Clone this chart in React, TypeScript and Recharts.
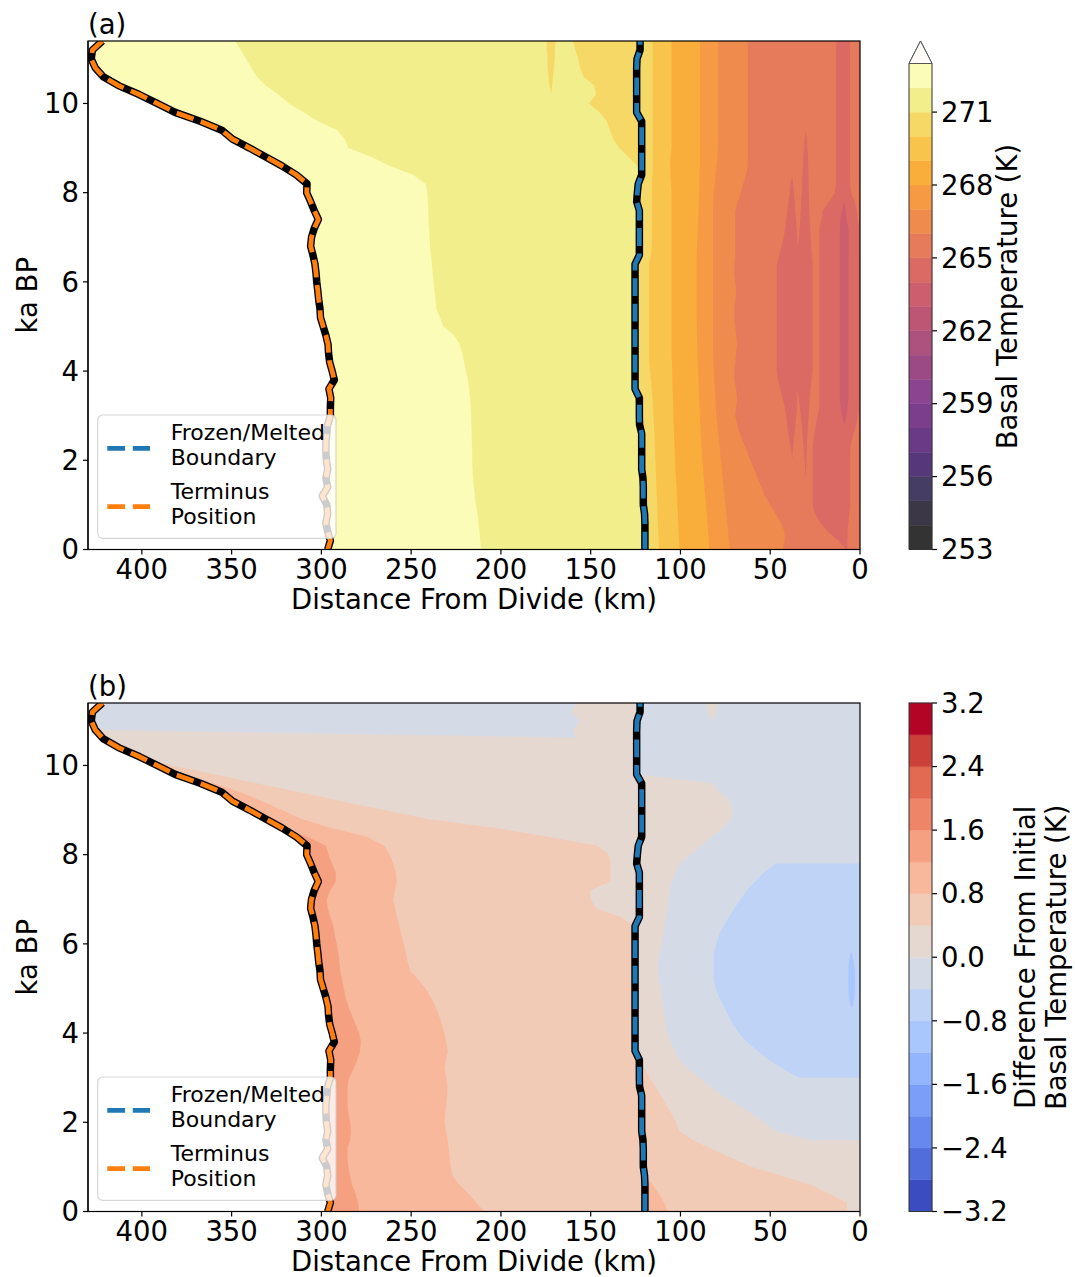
import React from 'react';
import { ComposedChart, Area, Line, XAxis, YAxis, ReferenceArea } from 'recharts';

const FONT = "'DejaVu Sans', 'Liberation Sans', sans-serif";

// ---------- shared time grid (ka BP) ----------
const timeKa = [0, 0.2, 0.4, 0.6, 0.8, 1, 1.2, 1.4, 1.6, 1.8, 2, 2.2, 2.4, 2.6, 2.8, 3, 3.2, 3.4, 3.6, 3.8,
  4, 4.2, 4.4, 4.6, 4.8, 5, 5.2, 5.4, 5.6, 5.8, 6, 6.2, 6.4, 6.6, 6.8, 7, 7.2, 7.4, 7.6, 7.8,
  8, 8.2, 8.4, 8.6, 8.8, 9, 9.2, 9.4, 9.6, 9.8, 10, 10.2, 10.4, 10.6, 10.8, 11, 11.2, 11.4];

// terminus position (km from divide)
const terminusKm = [296.5, 295, 296.5, 297.5, 296.5, 297, 299.5, 296.5, 297.5, 296.5,
  297.2, 297.5, 297.5, 297, 296.5, 295, 295, 294.8, 295.8, 292.8,
  294, 295.4, 296, 296.3, 297.5, 299, 300.5, 300.8, 301.5, 302,
  302.6, 303, 303.6, 304.7, 306, 305.5, 304, 301.7, 304, 306,
  308.2, 308, 314, 322, 331, 340, 349.5, 355.5, 367.5, 381.5,
  391.5, 401.5, 413, 421.5, 426, 428.2, 427.5, 422];

// frozen / melted boundary (km from divide)
const frozenMeltedKm = [119.8, 119.8, 119.8, 119.8, 120, 120.7, 120.7, 120.7, 120.9, 121.6,
  121.6, 121.6, 121.6, 121.6, 122.8, 122.9, 122.9, 122.9, 125.3, 125.3,
  125.3, 125.3, 125.3, 125.3, 125.3, 125.3, 125.3, 125.3, 125.3, 125.3,
  125.3, 125.3, 125.3, 122.9, 122.9, 122.9, 122.9, 122.9, 122.9, 124.4,
  124, 123.5, 121.6, 121.6, 121.6, 121.6, 121.6, 121.6, 121.6, 124.4,
  124.4, 124.4, 124.4, 124.4, 124.4, 124.2, 122.5, 122.5];

// ---------- panel (a): basal temperature contour positions (km where T crosses level) ----------
const tempLevels = [253, 254, 255, 256, 257, 258, 259, 260, 261, 262, 263, 264, 265, 266, 267, 268, 269, 270, 271, 272, 273];
const tempColors = ['#333333', '#3c3747', '#453d63', '#56387a', '#6a3a86', '#7a3e8c', '#8a4490', '#9b4a86', '#ad527e', '#bd5675',
  '#cd5e6d', '#da6a63', '#e67b5b', '#f08b4e', '#f69b43', '#f9ae3b', '#f9c44c', '#f6d867', '#f2ee8c', '#fafcb8'];
const tempTicks = [253, 256, 259, 262, 265, 268, 271];

const iso272 = [211, 211.5, 212, 212.5, 213, 214, 214.5, 215, 215.5, 215.8,
  216, 216, 216.2, 216.3, 216.5, 216.6, 216.8, 217.2, 217.8, 218.3,
  219.5, 220.5, 221.5, 223, 226, 232, 234, 236, 236.5, 237,
  237.5, 238, 238.5, 239, 239.5, 239.8, 240.1, 240.3, 240.5, 240.7,
  241, 242, 249, 262, 272, 285, 287, 291, 302, 310,
  318, 324, 331, 336, 339, 342, 345, 348];
const iso271 = [120.3, 120.3, 120.3, 120.3, 120.5, 121.2, 121.2, 121.2, 121.4, 122.1,
  122.1, 122.1, 122.1, 122.1, 123.3, 123.4, 123.4, 123.4, 125.8, 125.8,
  125.8, 125.8, 125.8, 125.8, 125.8, 125.8, 125.8, 125.8, 125.8, 125.8,
  125.8, 125.8, 125.8, 123.4, 123.4, 123.4, 123.4, 123.4, 123.4, 124.9,
  124.5, 124, 122.1, 124, 129, 134, 137.5, 139.3, 141, 145,
  151, 147, 148, 154, 156, 157, 158.5, 160];
const iso270 = [112, 112.2, 112.4, 112.6, 112.8, 113, 113.2, 113.4, 113.6, 113.8,
  114, 114.2, 114.4, 114.6, 114.8, 115, 115.3, 115.6, 116, 116.5,
  117, 117.5, 117.5, 117.5, 117.5, 117.5, 117.5, 117.5, 117.5, 117.5,
  117.5, 117.5, 117.5, 116.5, 116, 116, 116, 116, 116, 116,
  116, 115.8, 115.6, 115.5, 115.5, 115.5, 115.5, 115.5, 115.5, 115.5,
  115.5, 115.5, 115.5, 115.5, 115.5, 115.5, 115.5, 115.5];
const iso269 = [100.5, 100.8, 101, 101.3, 101.5, 101.8, 102, 102.2, 102.5, 102.8,
  103, 103.2, 103.4, 103.6, 103.8, 104, 104, 104.2, 104.4, 104.5,
  104.6, 104.8, 105, 105, 105, 105, 105, 105, 105, 105,
  105, 105, 105, 105, 105, 105, 105, 105, 105, 105,
  105, 105.3, 105.6, 105.8, 105.5, 105, 105, 105, 105, 105,
  105, 105, 105, 105, 105, 105, 105, 105];
const iso268 = [84, 84.3, 84.6, 85, 85.4, 85.8, 86.2, 86.6, 87, 87.4,
  87.8, 88.1, 88.4, 88.7, 89, 89.2, 89.4, 89.6, 89.8, 90,
  90.2, 90.4, 90.6, 90.7, 90.8, 90.9, 91, 91, 91, 91,
  91, 91, 91, 91, 90.8, 90.6, 90.4, 90.2, 90, 89.8,
  89.6, 89.5, 89.4, 89.2, 89.2, 89.2, 89.2, 89.2, 89.2, 89.2,
  89.2, 89.2, 89.2, 89.2, 89.2, 89.2, 89.2, 89.2];
const iso267 = [72.5, 73, 73.5, 74, 74.5, 75, 75.5, 76, 76.5, 77,
  77.5, 78, 78.5, 79, 79.5, 80, 80.3, 80.6, 80.9, 81.2,
  81.4, 81.6, 81.8, 81.8, 81.8, 81.8, 81.8, 81.8, 81.8, 81.8,
  81.8, 81.8, 81.8, 81.8, 81.8, 81.8, 81.8, 81.8, 81.8, 81.8,
  81.5, 81, 80.5, 80, 79.5, 79.2, 79, 79, 79, 79,
  79, 79, 79, 79, 79, 79, 79, 79];
const iso266 = [43, 42, 42, 44, 47, 50, 53, 55, 57, 59,
  61, 63, 65, 67, 68.5, 69.5, 69, 68.5, 69, 70,
  70, 69.5, 69, 68.5, 69, 69.5, 70, 70, 69.5, 69,
  69.5, 70, 70, 69.5, 69.5, 69.5, 69.5, 69.5, 69.5, 68,
  66.3, 65, 63.5, 62.5, 62.5, 62.5, 62.5, 62.5, 62.5, 62.5,
  62.5, 62.5, 62.5, 62.5, 62.5, 62.5, 62.5, 62.5];

// closed tongues (band ranges [lo, hi] km), starting at a given time
const patch270to271 = { startKa: 10.2, lo: [172, 171.5, 171, 170.5, 170, 170, 169.5], hi: [172, 173, 173.5, 174, 174, 174.5, 174.5] };
const tongueA264 = {
  startKa: 0,
  lo: [7.2, 7, 7, 6.5, 6, 5.5, 5.5, 5.5, 5.5, 5.5, 5.5, 5.5, 5, 3.5, 2, 1,
    0.5, 0.5, 0.5, 0.5, 0.5, 0.5, 0.5, 0.5, 0.5, 0.5, 0.5, 0.5, 0.5, 0.5, 0.5, 0.5, 0.5, 0.5, 0.5, 0.5, 0.5,
    1.2, 1.7, 3, 5, 5.5, 5.5, 5.5, 5.5, 5.5, 5.5, 5.5, 5.5, 5.5, 5.5, 5.5, 5.5, 5.5, 5.5, 5.5, 5.5, 5.5],
  hi: [8, 12, 18, 22, 25, 26.4, 26.4, 26.4, 26.4, 26.4, 26.4, 26.4, 26, 25.5, 24.5, 23.5,
    22.6, 22.6, 22.6, 22.6, 22.6, 22.6, 22.6, 22.6, 22.6, 22.6, 22.6, 22.6, 22.6, 22.6, 22.6, 22.6, 22.6, 22.6, 22.6, 22.6, 22.6,
    21.5, 20.7, 17, 14, 13.3, 13.3, 13.3, 13.3, 13.3, 13.3, 13.3, 13.3, 13.3, 13.3, 13.3, 13.3, 13.3, 13.3, 13.3, 13.3, 13.1],
};
const tongueB264 = {
  startKa: 1.6,
  lo: [30.2, 30, 29.9, 29.7, 29.5, 29.2, 29, 28.6, 28.3, 28, 27.5, 27,
    26.4, 26.4, 26.4, 26.4, 26.4, 26.4, 26.4, 26.4, 26.4, 26.4, 26.4, 26.4, 26.4,
    26.8, 27.2, 27.5, 27.8, 28, 28.3, 28.4, 28.5, 28.6, 28.7, 28.8, 29, 29.3, 29.6, 30.2],
  hi: [30.2, 30.5, 30.9, 31.2, 31.6, 32, 32.5, 33, 33.5, 34, 35, 36,
    36.5, 36.5, 36.5, 36.5, 36.5, 36.5, 36.5, 36.5, 36.5, 36.5, 36.5, 36.5, 36.5,
    36, 35, 34, 33.6, 33.3, 33, 32.8, 32.5, 32.2, 32, 31.8, 31.5, 31.2, 30.8, 30.2],
};
const tongueC264 = {
  startKa: 2,
  lo: [37.8, 37.5, 37, 36.5, 36, 35.5, 35.2, 35, 35, 35.5,
    36, 36, 36, 36, 36, 36, 36, 36, 36, 36, 36, 36, 36,
    35.5, 35, 35, 35.2, 35.6, 36, 36.4, 36.8, 37.2, 37.8],
  hi: [37.8, 38.3, 39, 40, 40.5, 41, 42, 43, 44.5, 45.5,
    46.3, 46.3, 46.3, 46.3, 46.3, 46.3, 46.3, 46.3, 46.3, 46.3, 46.3, 46.3, 46.3,
    45, 43.5, 42.5, 41.6, 41, 40.4, 39.8, 39.2, 38.6, 37.8],
};
const tongueD263 = {
  startKa: 2.8,
  lo: [8.7, 7.5, 7, 6.4, 6.4, 6.4, 6.4, 6.4, 6.4, 6.4, 6.4, 6.4, 6.4, 6.4, 6.4, 6.4, 6.4, 6.4, 6.4, 6.4, 6.4, 6.4, 6.4, 7.5, 8, 8.7],
  hi: [8.7, 10, 10.8, 11.2, 11.2, 11.2, 11.2, 11.2, 11.2, 11.2, 11.2, 11.2, 11.2, 11.2, 11.2, 11.2, 11.2, 11.2, 11.2, 11.2, 11.2, 11.2, 11.2, 10.8, 10, 8.7],
};

// ---------- panel (b): temperature difference contour positions ----------
const diffLevels = [-3.2, -2.8, -2.4, -2, -1.6, -1.2, -0.8, -0.4, 0, 0.4, 0.8, 1.2, 1.6, 2, 2.4, 2.8, 3.2];
const diffColors = ['#3b4cc0', '#516ddb', '#6788ee', '#7b9ff9', '#93b5fe', '#aac7fd', '#bfd3f6', '#d4dbe6',
  '#e5d8d1', '#f2cbb7', '#f7b89c', '#f5a081', '#ee8468', '#e26952', '#cc403a', '#b40426'];
const diffTicks = [-3.2, -2.4, -1.6, -0.8, 0, 0.8, 1.6, 2.4, 3.2];

// 430 = contour reaches the ice margin (clipped to terminus)
const isoD12 = [279, 279.5, 281, 283, 284, 285, 285.5, 285.5, 284, 283.5,
  284, 285, 285.5, 285.5, 285.5, 284.5, 282, 280, 278.5, 278,
  279, 281, 283, 285, 286.5, 287.5, 288.5, 289.5, 290, 290.5,
  291.5, 292.5, 293.4, 295, 296.5, 297, 295, 292, 292, 294,
  296, 297.5, 308, 430, 430, 430, 430, 430, 430, 430,
  430, 430, 430, 430, 430, 430, 430, 430];
const isoD08 = [209, 214, 218, 223, 227, 228, 228.5, 229, 229.6, 230.5,
  231.4, 231, 230.5, 230, 229.8, 230.5, 231.4, 230.5, 229.6, 230.5,
  231.5, 233, 234.5, 236.5, 239, 242, 246, 250.5, 252, 253,
  254, 255.5, 256.5, 258, 259, 260, 259, 258, 258.5, 260,
  262, 265, 274.5, 294.5, 311, 322, 333, 345, 360, 430,
  430, 430, 430, 430, 430, 430, 430, 430];
const isoD04 = [7, 7.4, 17, 27.5, 43.6, 60, 71.6, 82.3, 93, 100.5,
  102.5, 105, 108, 111, 114, 117, 120, 123.5, 125.8, 125.8,
  125.8, 125.8, 125.8, 125.8, 125.8, 125.8, 125.8, 125.8, 125.8, 125.8,
  125.8, 125.8, 126, 133, 147, 150, 150, 139, 139, 139,
  140, 146, 174, 203, 241, 265, 288.5, 312, 336, 359.5,
  383, 430, 430, 430, 430, 430, 430, 430];
const isoD00 = [null, null, null, null, null, null, null, null, 27, 46.8,
  53.6, 60.6, 68.2, 76.7, 83.6, 89.6, 95.5, 100.6, 103, 105.5,
  107.5, 108.2, 108.9, 109.7, 110.5, 111, 112, 112.5, 112.5, 111.5,
  110.5, 109.6, 108.8, 108.1, 107.5, 106.8, 106, 105, 102.6, 100.1,
  94.6, 88.5, 82.4, 76.5, 71.9, 71, 72.4, 78.3, 82, 124.4,
  124.4, 124.4, 124.4, 124.4, 430, 430, 430, 430];
const isoDm04 = [null, null, null, null, null, null, null, null, null, null,
  null, null, null, null, null, 34, 43, 51, 57, 63,
  67.5, 71, 73.5, 76, 78.5, 80.5, 81.5, 81.5, 81.5, 81.5,
  80, 78.5, 76, 73, 70, 66.5, 63, 58.5, 53.5, 47,
  null, null, null, null, null, null, null, null, null, null,
  null, null, null, null, null, null, null, null];
const tongueDm08 = { startKa: 4.6, lo: [4, 3, 2.8, 2.8, 2.8, 3.5, 4.6], hi: [5.2, 6.2, 6.5, 6.5, 6.5, 6.2, 5.2] };
// small warm patches
const patchD0TopWest = { startKa: 10.6, lo: [124.4, 125, 125, 125, 125], hi: [158, 160, 156, 161, 158] };
const patchD0TopEast = { startKa: 11, lo: [82, 80, 79.5], hi: [82, 85, 85.5] };
const patchD08Bottom = { startKa: 0, lo: [107, 109, 112, 115.5, 119.5], hi: [120, 120, 120, 120, 120.3] };

// ---------- build rows ----------
type Tongue = { startKa: number; lo: number[]; hi: number[] };
const clipT = (v: number | null, i: number) => (v == null ? null : Math.min(v, terminusKm[i]));
const rangeAt = (tg: Tongue, i: number) => {
  const k = i - timeKa.indexOf(tg.startKa);
  return k >= 0 && k < tg.lo.length ? [tg.lo[k], tg.hi[k]] : null;
};

const rowsA = timeKa.map((t, i) => ({
  t,
  fill272: terminusKm[i],
  i272: clipT(iso272[i], i),
  i271: clipT(iso271[i], i),
  p271: rangeAt(patch270to271, i),
  i270: clipT(iso270[i], i),
  i269: clipT(iso269[i], i),
  i268: clipT(iso268[i], i),
  i267: clipT(iso267[i], i),
  i266: clipT(iso266[i], i),
  tA: rangeAt(tongueA264, i),
  tB: rangeAt(tongueB264, i),
  tC: rangeAt(tongueC264, i),
  tD: rangeAt(tongueD263, i),
  termK: terminusKm[i],
  termD: terminusKm[i],
  fmbK: frozenMeltedKm[i],
  fmbD: frozenMeltedKm[i],
}));

const rowsB = timeKa.map((t, i) => ({
  t,
  fill12: terminusKm[i],
  d12: clipT(isoD12[i], i),
  d08: clipT(isoD08[i], i),
  pb08: rangeAt(patchD08Bottom, i),
  d04: clipT(isoD04[i], i),
  d00: clipT(isoD00[i], i),
  pw0: rangeAt(patchD0TopWest, i),
  pe0: rangeAt(patchD0TopEast, i),
  dm04: clipT(isoDm04[i], i),
  dm08: rangeAt(tongueDm08, i),
  termK: terminusKm[i],
  termD: terminusKm[i],
  fmbK: frozenMeltedKm[i],
  fmbD: frozenMeltedKm[i],
}));

const tc = (lvl: number) => tempColors[tempLevels.indexOf(lvl)];
const dc = (lo: number) => diffColors[Math.round((lo + 3.2) / 0.4)];

const areasA = [
  { key: 'fill272', color: tc(272) },
  { key: 'i272', color: tc(271) },
  { key: 'i271', color: tc(270) },
  { key: 'p271', color: tc(270) },
  { key: 'i270', color: tc(269) },
  { key: 'i269', color: tc(268) },
  { key: 'i268', color: tc(267) },
  { key: 'i267', color: tc(266) },
  { key: 'i266', color: tc(265) },
  { key: 'tA', color: tc(264) },
  { key: 'tB', color: tc(264) },
  { key: 'tC', color: tc(264) },
  { key: 'tD', color: tc(263) },
];
const areasB = [
  { key: 'fill12', color: dc(1.2) },
  { key: 'd12', color: dc(0.8) },
  { key: 'd08', color: dc(0.4) },
  { key: 'pb08', color: dc(0.8) },
  { key: 'd04', color: dc(0) },
  { key: 'd00', color: dc(-0.4) },
  { key: 'pw0', color: dc(0) },
  { key: 'pe0', color: dc(0) },
  { key: 'dm04', color: dc(-0.8) },
  { key: 'dm08', color: dc(-1.2) },
];

const xTicks = [0, 50, 100, 150, 200, 250, 300, 350, 400];
const yTicks = [0, 2, 4, 6, 8, 10];
const DASH = '17.8 7.7';
const tickStyle = { fill: '#000', fontSize: 27.5, fontFamily: FONT };

function Panel({ rows, areas }: { rows: any[]; areas: { key: string; color: string }[] }) {
  return (
    <ComposedChart width={880} height={640} data={rows} layout="vertical"
      margin={{ top: 41, right: 20, bottom: 0, left: 0 }}>
      {areas.map((a) => (
        <Area key={a.key} dataKey={a.key} type="linear" stroke="none" fill={a.color} fillOpacity={1}
          baseValue={0} isAnimationActive={false} activeDot={false} dot={false} />
      ))}
      <Line dataKey="fmbK" type="linear" stroke="#000" strokeWidth={7.5} strokeLinejoin="round" dot={false} activeDot={false} isAnimationActive={false} />
      <Line dataKey="fmbD" type="linear" stroke="#1f77b4" strokeWidth={4.8} strokeDasharray={DASH} strokeLinecap="butt" dot={false} activeDot={false} isAnimationActive={false} />
      <Line dataKey="termK" type="linear" stroke="#000" strokeWidth={7.5} strokeLinejoin="round" dot={false} activeDot={false} isAnimationActive={false} />
      <Line dataKey="termD" type="linear" stroke="#ff7f0e" strokeWidth={4.8} strokeDasharray={DASH} strokeLinecap="butt" dot={false} activeDot={false} isAnimationActive={false} />
      <XAxis type="number" domain={[0, 430]} reversed allowDataOverflow ticks={xTicks} interval={0} height={90.5}
        tickSize={5} tickMargin={5} tick={tickStyle} axisLine={{ stroke: '#000', strokeWidth: 1.2 }} tickLine={{ stroke: '#000', strokeWidth: 1.2 }} />
      <YAxis type="number" dataKey="t" domain={[0, 11.4]} reversed allowDataOverflow ticks={yTicks} interval={0} width={88}
        tickSize={5} tickMargin={4} tick={tickStyle} axisLine={{ stroke: '#000', strokeWidth: 1.2 }} tickLine={{ stroke: '#000', strokeWidth: 1.2 }} />
    </ComposedChart>
  );
}

function ColorBar({ levels, colors, ticks, fmt, top }: { levels: number[]; colors: string[]; ticks: number[]; fmt: (v: number) => string; top: number }) {
  return (
    <ComposedChart width={166} height={640} data={[{ x: 0 }, { x: 1 }]} margin={{ top, right: 0, bottom: 90.5, left: 0 }}>
      <XAxis type="number" dataKey="x" domain={[0, 1]} hide />
      <YAxis type="number" orientation="right" domain={[levels[0], levels[levels.length - 1]]} allowDataOverflow
        ticks={ticks} interval={0} tickFormatter={fmt} width={143} tickSize={5} tickMargin={4}
        axisLine={false} tickLine={{ stroke: '#000', strokeWidth: 1.2 }} tick={tickStyle} />
      {colors.map((c, i) => (
        <ReferenceArea key={i} x1={0} x2={1} y1={levels[i]} y2={levels[i + 1]} fill={c} fillOpacity={1}
          stroke={c} strokeWidth={0.5} ifOverflow="visible" />
      ))}
    </ComposedChart>
  );
}

const fmtTemp = (v: number) => String(v);
const fmtDiff = (v: number) => (v < 0 ? '\u2212' : '') + Math.abs(v).toFixed(1);

function LegendBox({ dy }: { dy: number }) {
  return (
    <g transform={`translate(0, ${dy})`}>
      <rect x={97.7} y={415} width={238.3} height={123.3} rx={5} fill="#fff" fillOpacity={0.8} stroke="#cccccc" strokeOpacity={0.8} strokeWidth={1.2} />
      <line x1={107.3} y1={448.3} x2={150} y2={448.3} stroke="#1f77b4" strokeWidth={4.8} strokeDasharray={DASH} />
      <line x1={107.3} y1={506.7} x2={150} y2={506.7} stroke="#ff7f0e" strokeWidth={4.8} strokeDasharray={DASH} />
      <g fontSize={22} fill="#000" fontFamily={FONT}>
        <text x={170.7} y={440}>Frozen/Melted</text>
        <text x={170.7} y={465}>Boundary</text>
        <text x={170.7} y={499}>Terminus</text>
        <text x={170.7} y={524}>Position</text>
      </g>
    </g>
  );
}

export default function App() {
  const dyB = 662;
  return (
    <div style={{ position: 'absolute', left: 0, top: 0, width: 1075, height: 1277, background: '#fff', fontFamily: FONT, overflow: 'hidden' }}>
      <div style={{ position: 'absolute', left: 0, top: 0 }}>
        <Panel rows={rowsA} areas={areasA} />
      </div>
      <div style={{ position: 'absolute', left: 909, top: 0 }}>
        <ColorBar levels={tempLevels} colors={tempColors} ticks={tempTicks} fmt={fmtTemp} top={63.5} />
      </div>
      <div style={{ position: 'absolute', left: 0, top: dyB }}>
        <Panel rows={rowsB} areas={areasB} />
      </div>
      <div style={{ position: 'absolute', left: 909, top: dyB }}>
        <ColorBar levels={diffLevels} colors={diffColors} ticks={diffTicks} fmt={fmtDiff} top={41} />
      </div>
      <svg style={{ position: 'absolute', left: 0, top: 0, pointerEvents: 'none' }} width={1075} height={1277}>
        {/* frames */}
        <rect x={88} y={41} width={772} height={508.5} fill="none" stroke="#000" strokeWidth={1.2} />
        <rect x={88} y={41 + dyB} width={772} height={508.5} fill="none" stroke="#000" strokeWidth={1.2} />
        {/* colorbar outlines */}
        <polygon points="909,549.5 909,63.5 920.5,41 932,63.5 932,549.5" fill="none" stroke="#333" strokeWidth={1} />
        <polygon points="909,63.5 920.5,41 932,63.5" fill="#fffcfa" stroke="#555" strokeWidth={1} />
        <rect x={909} y={41 + dyB} width={23} height={508.5} fill="none" stroke="#333" strokeWidth={1} />
        <LegendBox dy={0} />
        <LegendBox dy={dyB} />
        <g fontFamily={FONT} fontSize={27.5} fill="#000">
          <text x={88} y={34}>(a)</text>
          <text x={88} y={34 + dyB}>(b)</text>
          <text x={474} y={609} textAnchor="middle">Distance From Divide (km)</text>
          <text x={474} y={609 + dyB} textAnchor="middle">Distance From Divide (km)</text>
          <text transform="translate(37,295.25) rotate(-90)" textAnchor="middle">ka BP</text>
          <text transform={`translate(37,${295.25 + dyB}) rotate(-90)`} textAnchor="middle">ka BP</text>
          <text transform="translate(1017,296.5) rotate(-90)" textAnchor="middle">Basal Temperature (K)</text>
          <text transform={`translate(1035,${295.25 + dyB}) rotate(-90)`} textAnchor="middle">Difference From Initial</text>
          <text transform={`translate(1066,${295.25 + dyB}) rotate(-90)`} textAnchor="middle">Basal Temperature (K)</text>
        </g>
      </svg>
    </div>
  );
}
